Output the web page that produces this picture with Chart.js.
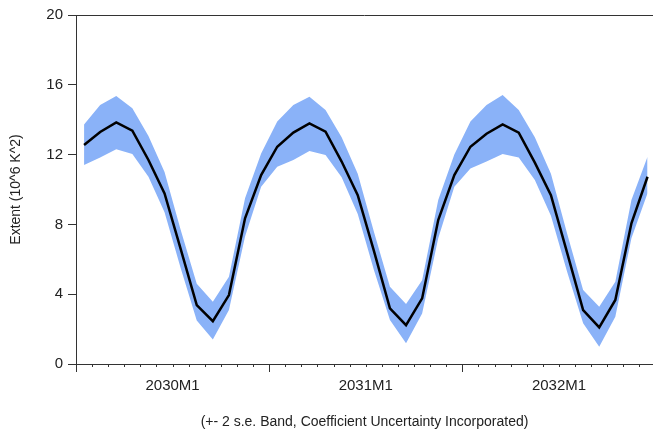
<!DOCTYPE html>
<html>
<head>
<meta charset="utf-8">
<script src="https://cdn.jsdelivr.net/npm/chart.js@4"></script>
<style>
  html, body { margin: 0; padding: 0; background: #fff; }
  #wrap { width: 653px; height: 432px; }
</style>
</head>
<body>
<div id="wrap"><canvas id="extentChart"></canvas></div>
<script>
// monthly forecast, 2030M1 .. 2032M12
const years = [2030, 2031, 2032];
const months = [];
years.forEach(y => { for (let m = 1; m <= 12; m++) months.push(y + 'M' + m); });
const yearLabels = ['2030M1', '2031M1', '2032M1'];

// point forecast
const meanValues = [
    12.55, 13.30, 13.85, 13.37, 11.69, 9.78, 6.60, 3.38, 2.45, 3.95, 8.35, 10.83,
    12.45, 13.26, 13.79, 13.31, 11.60, 9.68, 6.50, 3.19, 2.23, 3.76, 8.25, 10.83,
    12.45, 13.20, 13.73, 13.26, 11.54, 9.68, 6.40, 3.09, 2.10, 3.67, 8.06, 10.73
];
// +- 2 s.e. band
const upperValues = [
    13.73, 14.84, 15.36, 14.65, 13.07, 11.00, 7.70, 4.60, 3.57, 5.00, 9.50, 12.07,
    13.90, 14.84, 15.32, 14.56, 13.00, 10.90, 7.60, 4.43, 3.44, 4.80, 9.40, 12.00,
    13.90, 14.84, 15.42, 14.56, 13.00, 10.90, 7.50, 4.24, 3.28, 4.72, 9.40, 11.88
];
const lowerValues = [
    11.40, 11.84, 12.30, 12.03, 10.73, 8.70, 5.50, 2.50, 1.41, 3.10, 7.30, 10.16,
    11.30, 11.69, 12.20, 11.98, 10.70, 8.60, 5.40, 2.52, 1.19, 2.90, 7.20, 10.16,
    11.20, 11.60, 12.03, 11.84, 10.54, 8.50, 5.30, 2.33, 0.99, 2.71, 7.20, 9.78
];
const yTicks = [0, 4, 8, 12, 16, 20];

// each month gets one slot, the point sits in the middle of it
const toPoints = vals => vals.map((v, i) => ({ x: i + 0.5, y: v }));

const axisColor = '#333';
const textColor = '#222';
Chart.defaults.font.family = '"Liberation Sans", Arial, sans-serif';
Chart.defaults.color = textColor;

// top frame line + month tick marks (longer at year boundaries)
const frameTicks = {
    id: 'frameTicks',
    afterDraw(chart) {
        const { ctx, chartArea: a, scales: { x } } = chart;
        ctx.save();
        ctx.strokeStyle = axisColor;
        ctx.lineWidth = 1;
        ctx.beginPath();
        ctx.moveTo(a.left, Math.round(a.top) + 0.5);
        ctx.lineTo(a.right, Math.round(a.top) + 0.5);
        for (let k = 0; k <= months.length; k++) {
            const px = Math.round(x.getPixelForValue(k)) + 0.5;
            if (px > a.right + 1) break;
            const len = k % 12 === 0 ? 8 : 3;
            ctx.moveTo(px, a.bottom);
            ctx.lineTo(px, a.bottom + len);
        }
        ctx.stroke();
        ctx.restore();
    }
};

const ctx = document.getElementById('extentChart').getContext('2d');
const chart = new Chart(ctx, {
    type: 'line',
    data: {
        datasets: [
            {
                label: 'Forecast',
                data: toPoints(meanValues),
                borderColor: '#000',
                borderWidth: 2.5,
                pointRadius: 0,
                fill: false,
                tension: 0
            },
            {
                label: 'Upper',
                data: toPoints(upperValues),
                borderWidth: 0,
                pointRadius: 0,
                backgroundColor: 'rgb(138, 178, 248)',
                fill: '+1'
            },
            {
                label: 'Lower',
                data: toPoints(lowerValues),
                borderWidth: 0,
                pointRadius: 0,
                fill: false
            }
        ]
    },
    options: {
        responsive: true,
        maintainAspectRatio: false,
        animation: false,
        layout: { padding: { top: 15, right: 0, left: 0, bottom: 0 } },
        plugins: {
            legend: { display: false },
            tooltip: { enabled: false }
        },
        scales: {
            x: {
                type: 'linear',
                min: 0,
                max: 35.84, // axis runs past the right edge of the picture
                afterBuildTicks: scale => {
                    scale.ticks = yearLabels.map((l, j) => ({ value: 6 + 12 * j }));
                },
                afterFit: scale => { scale.height = 68; },
                ticks: {
                    autoSkip: false,
                    maxRotation: 0,
                    padding: 5,
                    font: { size: 15 },
                    color: textColor,
                    callback: v => yearLabels[Math.round((v - 6) / 12)]
                },
                grid: { display: false },
                border: { display: true, color: axisColor, width: 1 },
                title: {
                    display: true,
                    text: '(+- 2 s.e. Band, Coefficient Uncertainty Incorporated)',
                    font: { size: 14 },
                    color: textColor,
                    padding: { top: 1, bottom: 1 }
                }
            },
            y: {
                min: 0,
                max: 20,
                afterBuildTicks: scale => {
                    scale.ticks = yTicks.map(v => ({ value: v }));
                },
                afterFit: scale => { scale.width = 76; },
                ticks: {
                    padding: 5,
                    font: { size: 15 },
                    color: textColor
                },
                grid: {
                    drawOnChartArea: false,
                    tickLength: 8,
                    color: axisColor
                },
                border: { display: true, color: axisColor, width: 1 },
                title: {
                    display: true,
                    text: 'Extent (10^6 K^2)',
                    font: { size: 14 },
                    color: textColor,
                    padding: { top: 8, bottom: 0 }
                }
            }
        }
    },
    plugins: [frameTicks]
});
</script>
</body>
</html>
